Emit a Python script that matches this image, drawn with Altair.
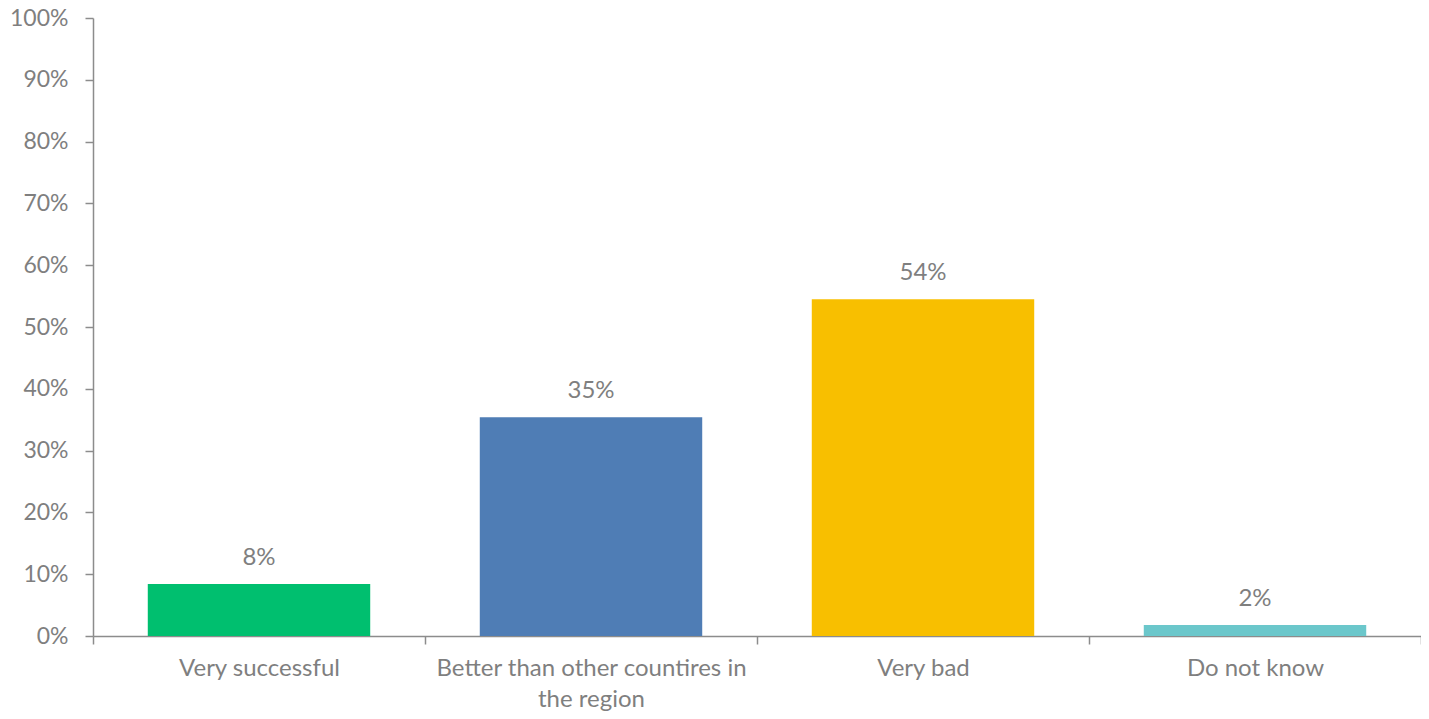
import altair as alt
import pandas as pd

categories = ["Very successful", "Better than other countires in the region", "Very bad", "Do not know"]
values = [8.4, 35.4, 54.5, 1.8]
value_labels = ["8%", "35%", "54%", "2%"]
colors = ["#00BF6F", "#4F7DB5", "#F8BF00", "#6BC7CB"]

df = pd.DataFrame({"cat": categories, "val": values, "lab": value_labels})

GRAY = "#7F7F7F"
LINE = "#8C8C8C"
FONT = "Lato"
FS = 24

x = alt.X(
    "cat:N",
    sort=categories,
    scale=alt.Scale(paddingInner=0, paddingOuter=0),
    axis=alt.Axis(
        title=None,
        labelAngle=0,
        labelFont=FONT,
        labelFontSize=FS,
        labelColor=GRAY,
        labelPadding=12,
        labelLineHeight=31,
        labelExpr="datum.label == 'Better than other countires in the region' ? ['Better than other countires in', 'the region'] : datum.label",
        tickBand="extent",
        tickSize=8,
        tickColor=LINE,
        tickWidth=1.5,
        domainColor=LINE,
        domainWidth=1.5,
        labelLimit=400,
    ),
)

bars = alt.Chart(df).mark_bar(width=alt.RelativeBandSize(0.67)).encode(
    x=x,
    y=alt.Y(
        "val:Q",
        scale=alt.Scale(domain=[0, 100], nice=False),
        axis=alt.Axis(
            title=None,
            values=list(range(0, 101, 10)),
            labelExpr="datum.value + '%'",
            labelFont=FONT,
            labelFontSize=23,
            labelColor=GRAY,
            labelPadding=17,
            tickSize=8,
            tickColor=LINE,
            tickWidth=1.5,
            domainColor=LINE,
            domainWidth=1.5,
            grid=False,
        ),
    ),
    color=alt.Color("cat:N", sort=categories, scale=alt.Scale(domain=categories, range=colors), legend=None),
)

text = alt.Chart(df).mark_text(
    font=FONT, fontSize=FS, color=GRAY, baseline="alphabetic", dy=-19
).encode(x=alt.X("cat:N", sort=categories), y="val:Q", text="lab:N")

chart = (bars + text).properties(
    width=1328,
    height=618,
    autosize=alt.AutoSizeParams(type="none"),
    padding={"left": 85, "top": 10, "right": 0, "bottom": 75},
).configure_view(stroke=None)

chart.save("out.html", embed_options={"renderer": "svg", "actions": False})
